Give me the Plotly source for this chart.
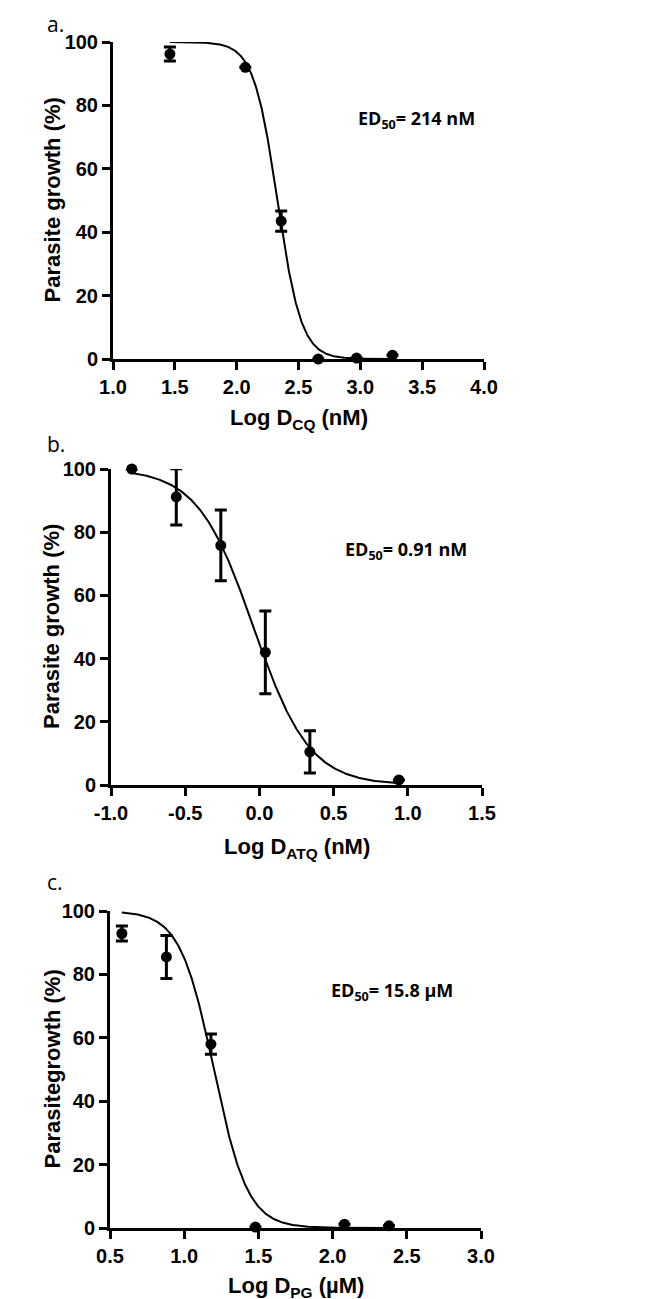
import numpy as np
import plotly.graph_objects as go

W, H = 669, 1299

# ---------------- data ----------------
# Panel a: chloroquine
a_logd = [1.46, 2.07, 2.36, 2.66, 2.97, 3.26]
a_growth = [96.2, 92.0, 43.5, 0.0, 0.3, 1.2]
a_err = [2.2, 0.0, 3.2, 0.0, 0.0, 0.0]
a_log_ed50 = 2.33   # log10(214 nM)
a_hill = 4.5

# Panel b: atovaquone
b_logd = [-0.86, -0.56, -0.26, 0.04, 0.34, 0.94]
b_growth = [100.0, 91.2, 75.8, 42.0, 10.5, 1.6]
b_err = [0.0, 8.9, 11.2, 13.1, 6.7, 0.0]
b_log_ed50 = -0.04  # log10(0.91 nM)
b_hill = 2.3

# Panel c: PG
c_logd = [0.58, 0.88, 1.18, 1.48, 2.08, 2.38]
c_growth = [92.9, 85.5, 58.0, 0.3, 1.2, 0.7]
c_err = [2.4, 6.8, 3.2, 0.0, 0.0, 0.0]
c_log_ed50 = 1.20   # log10(15.8 uM)
c_hill = 3.8

a_xticks = [1.0, 1.5, 2.0, 2.5, 3.0, 3.5, 4.0]
b_xticks = [-1.0, -0.5, 0.0, 0.5, 1.0, 1.5]
c_xticks = [0.5, 1.0, 1.5, 2.0, 2.5, 3.0]
y_ticks = [0, 20, 40, 60, 80, 100]

# ---------------- helpers ----------------
def px_x(x):
    return x / W

def px_y(y):
    return 1 - y / H

def fit_curve(xs, log_ed50, hill, top=100.0, bottom=0.0):
    xs = np.asarray(xs)
    return bottom + (top - bottom) / (1 + 10 ** ((xs - log_ed50) * hill))

panels = [
    dict(x=a_logd, y=a_growth, e=a_err, ed=a_log_ed50, h=a_hill, xticks=a_xticks,
         dom_x=(105, 476), dom_y=(34, 351), xtitle="Log D<sub>CQ</sub> (nM)", xt_y=411,
         ytitle="Parasite growth (%)", yt_x=44, ann="ED<sub>50</sub>= 214 nM",
         ann_xy=(408, 112), lab="a.", lab_y=0),
    dict(x=b_logd, y=b_growth, e=b_err, ed=b_log_ed50, h=b_hill, xticks=b_xticks,
         dom_x=(103, 474), dom_y=(461, 777), xtitle="Log D<sub>ATQ</sub> (nM)", xt_y=840,
         ytitle="Parasite growth (%)", yt_x=43, ann="ED<sub>50</sub>= 0.91 nM",
         ann_xy=(398, 542), lab="b.", lab_y=420),
    dict(x=c_logd, y=c_growth, e=c_err, ed=c_log_ed50, h=c_hill, xticks=c_xticks,
         dom_x=(102, 473), dom_y=(903, 1220), xtitle="Log D<sub>PG</sub> (µM)", xt_y=1279,
         ytitle="Parasitegrowth (%)", yt_x=44, ann="ED<sub>50</sub>= 15.8 µM",
         ann_xy=(384, 983), lab="c.", lab_y=858),
]

fig = go.Figure()
annotations = []
AX_FONT = dict(family="Liberation Sans, Arial, sans-serif", size=20, color="black", weight="bold")
TITLE_FONT = dict(family="Liberation Sans, Arial, sans-serif", size=22, color="black", weight="bold")

for i, p in enumerate(panels, start=1):
    xa = "x" if i == 1 else f"x{i}"
    ya = "y" if i == 1 else f"y{i}"
    xs = np.linspace(min(p["x"]), max(p["x"]), 400)
    fig.add_trace(go.Scatter(
        x=xs, y=fit_curve(xs, p["ed"], p["h"]), mode="lines",
        line=dict(color="black", width=2), xaxis=xa, yaxis=ya,
        showlegend=False, hoverinfo="skip", cliponaxis=False))
    fig.add_trace(go.Scatter(
        x=p["x"], y=p["y"], mode="markers",
        marker=dict(color="black", size=11),
        error_y=dict(type="data", array=p["e"], visible=True, color="black",
                     thickness=3, width=6),
        xaxis=xa, yaxis=ya, showlegend=False, cliponaxis=False))

    xkey = "xaxis" if i == 1 else f"xaxis{i}"
    ykey = "yaxis" if i == 1 else f"yaxis{i}"
    fig.update_layout(**{
        xkey: dict(domain=[px_x(p["dom_x"][0]), px_x(p["dom_x"][1])], anchor=ya,
                   range=[p["xticks"][0], p["xticks"][-1]], tickvals=p["xticks"],
                   ticktext=[f"{v:.1f}" for v in p["xticks"]],
                   showline=True, linecolor="black", linewidth=3, ticks="outside",
                   ticklen=8, tickwidth=3, tickcolor="black", showgrid=False,
                   zeroline=False, tickfont=AX_FONT, automargin=False),
        ykey: dict(domain=[px_y(p["dom_y"][1]), px_y(p["dom_y"][0])], anchor=xa,
                   range=[0, 100], tickvals=y_ticks,
                   showline=True, linecolor="black", linewidth=3, ticks="outside",
                   ticklen=8, tickwidth=3, tickcolor="black", showgrid=False,
                   zeroline=False, tickfont=AX_FONT, automargin=False),
    })
    # axis titles
    cx = (p["dom_x"][0] + p["dom_x"][1]) / 2
    annotations.append(dict(text=p["xtitle"], x=px_x(cx), y=px_y(p["xt_y"]),
                            xref="paper", yref="paper", showarrow=False,
                            xanchor="center", yanchor="middle", font=TITLE_FONT))
    cy = (p["dom_y"][0] + p["dom_y"][1]) / 2
    annotations.append(dict(text=p["ytitle"], x=px_x(p["yt_x"]), y=px_y(cy),
                            xref="paper", yref="paper", showarrow=False, textangle=-90,
                            xanchor="center", yanchor="middle", font=TITLE_FONT))
    # ED50 label
    annotations.append(dict(text=p["ann"], x=px_x(p["ann_xy"][0]), y=px_y(p["ann_xy"][1]),
                            xref="paper", yref="paper", showarrow=False,
                            xanchor="center", yanchor="middle",
                            font=dict(family="Open Sans, Noto Sans, sans-serif", size=18,
                                      color="black", weight="bold")))
    # panel letter
    annotations.append(dict(text=p["lab"], x=px_x(37), y=px_y(p["lab_y"]),
                            xref="paper", yref="paper", showarrow=False,
                            xanchor="left", yanchor="top",
                            font=dict(family="Open Sans, Noto Sans, sans-serif", size=21,
                                      color="black")))

fig.update_layout(width=W, height=H, margin=dict(l=0, r=0, t=0, b=0),
                  paper_bgcolor="white", plot_bgcolor="white",
                  annotations=annotations)

fig.write_html("out.html")
